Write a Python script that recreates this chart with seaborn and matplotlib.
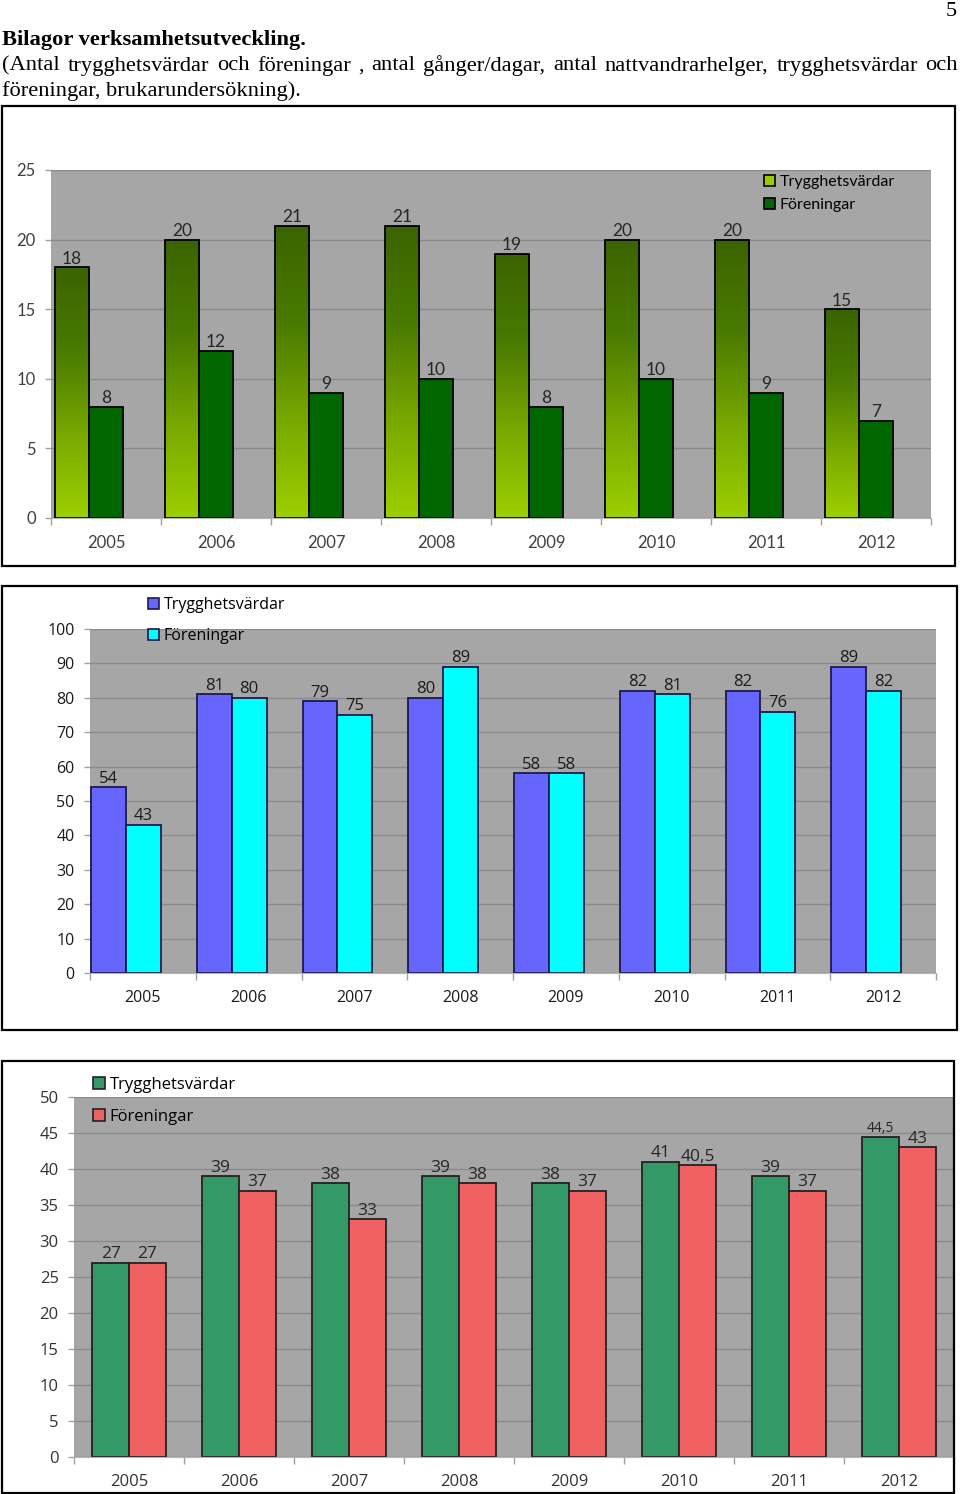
import numpy as np
import pandas as pd
import matplotlib
matplotlib.use('Agg')
import matplotlib.pyplot as plt
import seaborn as sns
from matplotlib.patches import Rectangle
from matplotlib.colors import LinearSegmentedColormap

# ---------------- data ----------------
years = ['2005', '2006', '2007', '2008', '2009', '2010', '2011', '2012']
series_names = ['Trygghetsvärdar', 'Föreningar']

c1_trygg = [18, 20, 21, 21, 19, 20, 20, 15]
c1_foren = [8, 12, 9, 10, 8, 10, 9, 7]

c2_trygg = [54, 81, 79, 80, 58, 82, 82, 89]
c2_foren = [43, 80, 75, 89, 58, 81, 76, 82]

c3_trygg = [27, 39, 38, 39, 38, 41, 39, 44.5]
c3_foren = [27, 37, 33, 38, 37, 40.5, 37, 43]

page_no = '5'
title = 'Bilagor verksamhetsutveckling.'
para_line1 = ('(Antal trygghetsvärdar och föreningar , antal gånger/dagar, antal '
              'nattvandrarhelger, trygghetsvärdar och')
para_line2 = 'föreningar, brukarundersökning).'

# ---------------- figure ----------------
W, H = 960, 1494
fig = plt.figure(figsize=(W / 100, H / 100), dpi=100)
fig.patch.set_facecolor('white')


def fx(x):
    return x / W


def fy(y):
    return 1 - y / H


def add_axes_px(left, top, right, bottom):
    return fig.add_axes([fx(left), fy(bottom), (right - left) / W, (bottom - top) / H])


def add_box(left, top, right, bottom, lw=1.6):
    fig.patches.append(Rectangle((fx(left), fy(bottom)), (right - left) / W, (bottom - top) / H,
                                 transform=fig.transFigure, fill=False, ec='black', lw=lw))


def make_df(t, f):
    return pd.DataFrame({
        'year': years * 2,
        'series': [series_names[0]] * len(years) + [series_names[1]] * len(years),
        'value': list(t) + list(f),
    })


def fmt(v):
    return ('%g' % v).replace('.', ',')


def draw_chart(ax, t, f, colors, edge, width, font, lab_fs, labcolor):
    df = make_df(t, f)
    sns.barplot(data=df, x='year', y='value', hue='series', order=years,
                hue_order=series_names, palette=colors, width=width, saturation=1,
                edgecolor=edge, linewidth=1.3, errorbar=None, ax=ax, legend=True)
    ax.set_facecolor('#a6a6a6')
    ax.set_xlabel('')
    ax.set_ylabel('')
    labels_out = []
    for cont, vals in zip(ax.containers, [t, f]):
        txts = ax.bar_label(cont, labels=[fmt(v) for v in vals], padding=0.5,
                            fontsize=lab_fs, color=labcolor, fontfamily=font)
        labels_out.append(txts)
    return labels_out


def style_axes(ax, ymax, ystep, offset, font, fs, tickcolor):
    ax.set_ylim(0, ymax)
    ax.set_yticks(np.arange(0, ymax + 0.001, ystep))
    ax.set_yticklabels([fmt(v) for v in np.arange(0, ymax + 0.001, ystep)])
    ax.set_xlim(-0.5 + offset, len(years) - 0.5 + offset)
    ax.set_xticks(np.arange(len(years)) + offset)
    ax.set_xticklabels(years)
    ax.set_xticks(np.arange(len(years) + 1) - 0.5 + offset, minor=True)
    ax.tick_params(axis='x', which='major', length=0, pad=12, labelsize=fs, labelcolor=tickcolor)
    ax.tick_params(axis='x', which='minor', length=5, width=1, color='#a0a0a0', direction='out')
    ax.tick_params(axis='y', length=4, width=1, color='#a0a0a0', pad=7, labelsize=fs,
                   labelcolor=tickcolor)
    ax.grid(axis='y', color='#8a8a8a', lw=1)
    ax.grid(axis='x', visible=False)
    ax.set_axisbelow(True)
    for s in ['top', 'right', 'left']:
        ax.spines[s].set_visible(False)
    ax.spines['bottom'].set_color('#b4b4b4')
    for lab in ax.get_xticklabels() + ax.get_yticklabels():
        lab.set_fontfamily(font)


def relegend(ax, anchor_px, font, fs, spacing, edge):
    leg = ax.get_legend()
    handles = leg.legend_handles
    labels = [tx.get_text() for tx in leg.texts]
    leg.remove()
    for h in handles:
        h.set_edgecolor(edge)
        h.set_linewidth(1.2)
    ax.legend(handles, labels, loc='upper left',
              bbox_to_anchor=(fx(anchor_px[0]), fy(anchor_px[1])),
              bbox_transform=fig.transFigure, frameon=False, borderpad=0,
              borderaxespad=0, handlelength=0.7, handleheight=0.7, handletextpad=0.3,
              labelspacing=spacing, prop={'family': font, 'size': fs})


# ---------------- header text ----------------
serif = 'Liberation Serif'
hfs = 16.2
fig.text(fx(957), fy(11), page_no, ha='right', va='center', fontsize=hfs, family=serif)
fig.text(fx(2), fy(40), title, ha='left', va='center', fontsize=hfs, family=serif,
         weight='bold')
renderer = fig.canvas.get_renderer()
words = para_line1.split(' ')
wtexts = [fig.text(0, fy(66), w, ha='left', va='center', fontsize=hfs, family=serif)
          for w in words]
widths = [tx.get_window_extent(renderer).width for tx in wtexts]
gap = (958 - 2 - sum(widths)) / (len(words) - 1)
xcur = 2
for tx, wd in zip(wtexts, widths):
    tx.set_x(fx(xcur))
    xcur += wd + gap
fig.text(fx(2), fy(91), para_line2, ha='left', va='center', fontsize=hfs, family=serif)

# ---------------- chart 1 ----------------
add_box(2, 106, 955, 566)
ax1 = add_axes_px(51, 170, 931, 518)
font1 = 'Lato'
draw_chart(ax1, c1_trygg, c1_foren, ['#9acb00', '#006600'], 'black', 0.62,
           font1, 12.5, '#262626')
# gradient fill for the first series
cmap = LinearSegmentedColormap.from_list('grn', ['#9dcf00', '#78a800', '#4a7a00', '#3a6400'])
grad = np.linspace(0, 1, 256).reshape(-1, 1)
for p in ax1.containers[0]:
    x0, w0, h0 = p.get_x(), p.get_width(), p.get_height()
    im = ax1.imshow(grad, extent=[x0, x0 + w0, 0, h0], origin='lower', aspect='auto',
                    cmap=cmap, zorder=p.get_zorder() - 0.05, interpolation='bilinear')
    im.set_clip_path(p)
    p.set_facecolor('none')
style_axes(ax1, 25, 5, 0.155, font1, 12, '#404040')
relegend(ax1, (764, 175), font1, 11.5, 0.55, 'black')

# ---------------- chart 2 ----------------
add_box(2, 586, 957, 1030)
ax2 = add_axes_px(90, 629, 936, 973)
font2 = 'Open Sans'
draw_chart(ax2, c2_trygg, c2_foren, ['#6666ff', '#00ffff'], '#1a1a4d', 0.66,
           font2, 12, '#1a1a1a')
style_axes(ax2, 100, 10, 0.16, font2, 11.5, '#1a1a1a')
relegend(ax2, (148, 597), font2, 11.5, 0.95, '#1a1a4d')

# ---------------- chart 3 ----------------
add_box(2, 1061, 954, 1493)
ax3 = add_axes_px(74, 1097, 954, 1457)
font3 = 'Open Sans'
labs3 = draw_chart(ax3, c3_trygg, c3_foren, ['#339966', '#f06161'], '#222222', 0.67,
                   font3, 12.5, '#262626')
for txts, vals in zip(labs3, [c3_trygg, c3_foren]):
    for tx, v in zip(txts, vals):
        if v != int(v) and v > 44:
            tx.set_fontsize(10)
style_axes(ax3, 50, 5, 0.0, font3, 12, '#333333')
relegend(ax3, (93, 1077), font3, 12, 0.95, '#222222')

fig.savefig('out.png', dpi=100, facecolor='white')
